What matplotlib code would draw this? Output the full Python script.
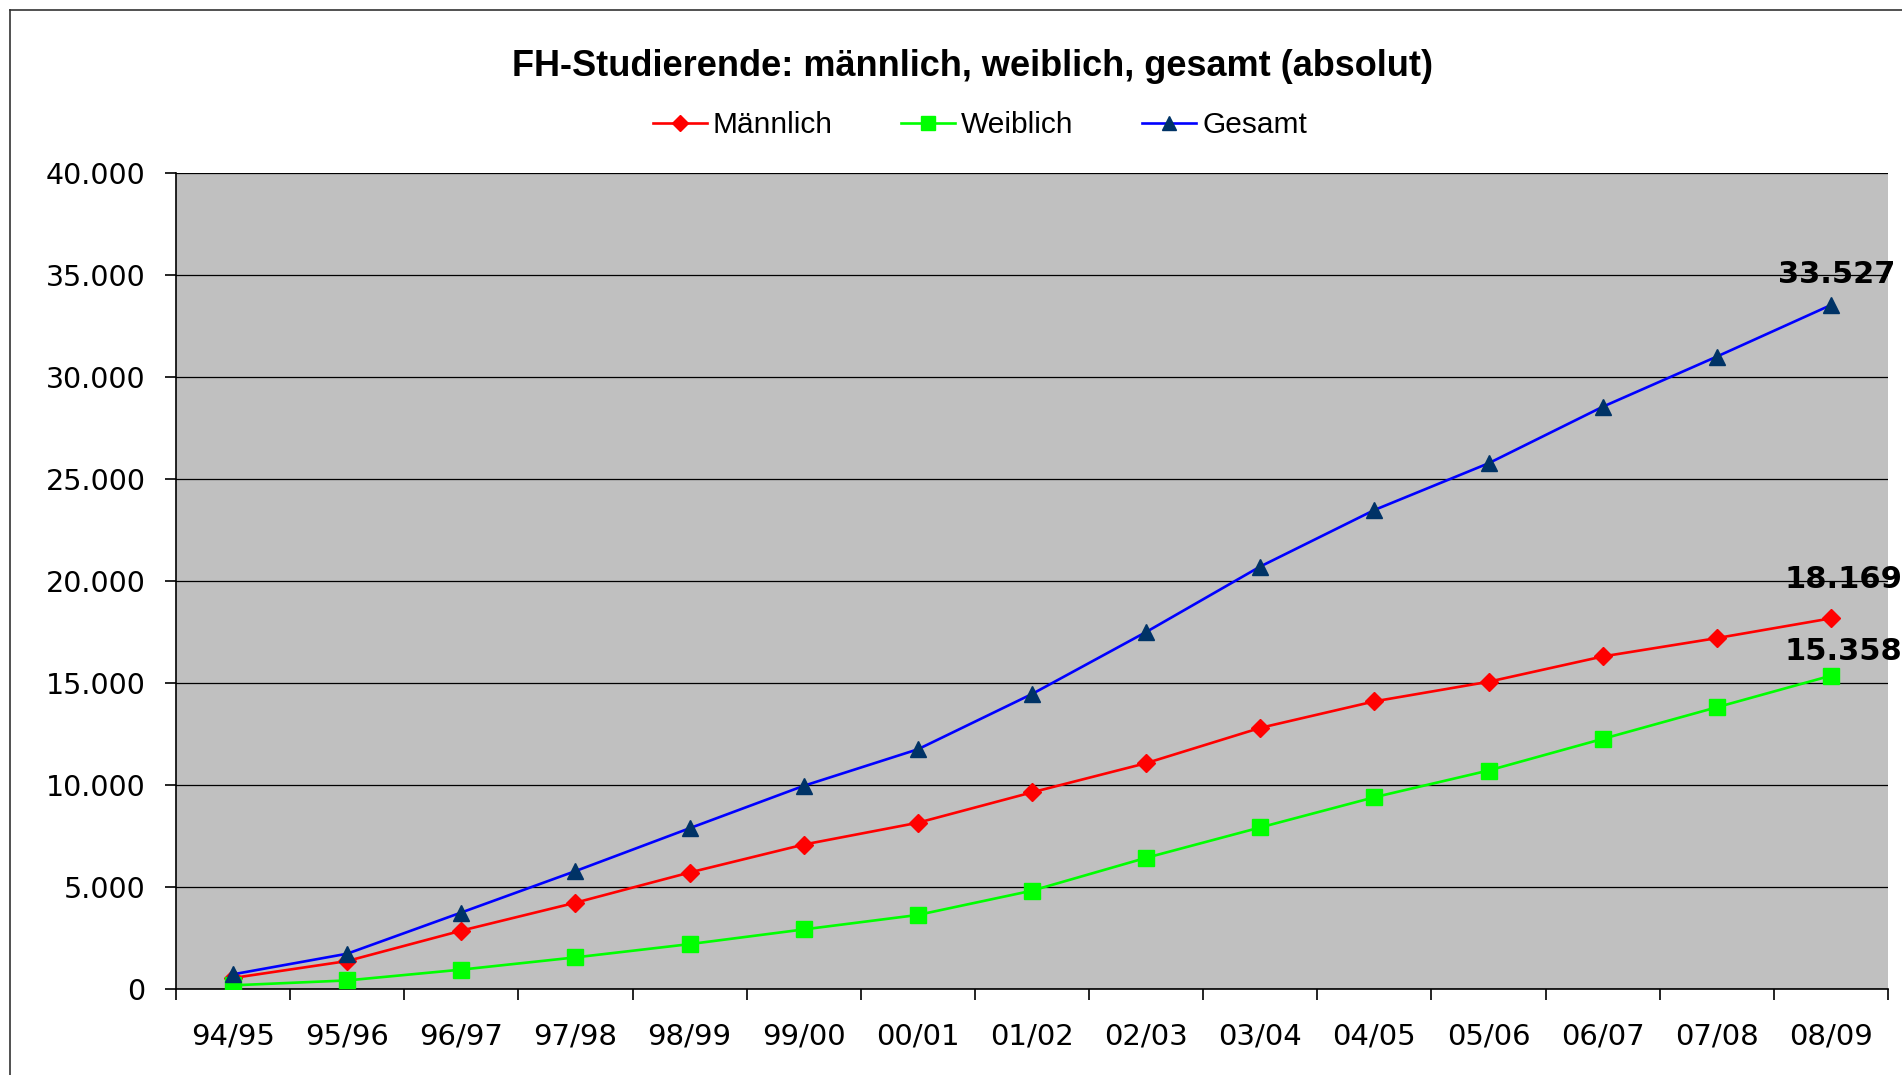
import matplotlib
matplotlib.use("Agg")
import matplotlib.pyplot as plt
from matplotlib.lines import Line2D
from matplotlib.ticker import FuncFormatter, FixedLocator

semester = ["94/95", "95/96", "96/97", "97/98", "98/99", "99/00", "00/01", "01/02",
            "02/03", "03/04", "04/05", "05/06", "06/07", "07/08", "08/09"]
maennlich = [540, 1370, 2860, 4230, 5710, 7080, 8150, 9640,
             11070, 12800, 14100, 15060, 16300, 17200, 18169]
weiblich = [180, 420, 950, 1550, 2200, 2920, 3630, 4820,
            6430, 7920, 9400, 10710, 12260, 13810, 15358]
gesamt = [720, 1730, 3750, 5780, 7880, 9960, 11750, 14460,
          17500, 20710, 23480, 25770, 28540, 31000, 33527]

W, H = 1902, 1075
fig = plt.figure(figsize=(W / 100, H / 100), dpi=100)
ax = fig.add_axes([176 / W, 1 - 989 / H, (1888 - 176) / W, (989 - 173) / H])
ax.set_facecolor("#C0C0C0")

x = list(range(len(semester)))
ax.plot(x, maennlich, color="#FF0000", lw=1.9, marker="D", ms=9,
        mfc="#FF0000", mec="#FF0000", label="Männlich", zorder=3)
ax.plot(x, weiblich, color="#00FF00", lw=1.9, marker="s", ms=11,
        mfc="#00FF00", mec="#00FF00", label="Weiblich", zorder=3)
ax.plot(x, gesamt, color="#0000FF", lw=1.9, marker="^", ms=11,
        mfc="#003366", mec="#003366", label="Gesamt", zorder=3)

ax.set_xlim(-0.5, len(semester) - 0.5)
ax.set_ylim(0, 40000)
ax.set_yticks(range(0, 40001, 5000))
ax.yaxis.set_major_formatter(FuncFormatter(lambda v, p: f"{int(v):,}".replace(",", ".")))
ax.grid(axis="y", color="black", lw=0.9)
ax.set_axisbelow(True)

ax.set_xticks(x)
ax.set_xticklabels(semester)
ax.xaxis.set_minor_locator(FixedLocator([i - 0.5 for i in range(len(semester) + 1)]))
ax.tick_params(axis="x", which="major", length=0, pad=24, labelsize=21)
ax.tick_params(axis="x", which="minor", length=8, width=1.2, direction="out")
ax.tick_params(axis="y", length=8, width=1.2, pad=14, labelsize=20.5)
for lab in ax.get_xticklabels() + ax.get_yticklabels():
    lab.set_fontfamily("DejaVu Sans")

for s in ["top", "right"]:
    ax.spines[s].set_visible(False)
for s in ["left", "bottom"]:
    ax.spines[s].set_linewidth(1.2)

# value labels at the last point
last = len(semester) - 1
lab_font = dict(fontsize=22, fontweight="bold", family="DejaVu Sans", ha="center", va="baseline")
ax.annotate("33.527", (last, gesamt[-1]), xytext=(4, 16), textcoords="offset points",
            annotation_clip=False, **lab_font)
ax.annotate("18.169", (last, maennlich[-1]), xytext=(9, 22), textcoords="offset points",
            annotation_clip=False, **lab_font)
ax.annotate("15.358", (last, weiblich[-1]), xytext=(9, 11), textcoords="offset points",
            annotation_clip=False, **lab_font)

fig.text(972 / W, 1 - 66 / H, "FH-Studierende: männlich, weiblich, gesamt (absolut)",
         ha="center", va="center", fontsize=26, fontweight="bold", family="Liberation Sans")

fig.legend(loc="center", bbox_to_anchor=(980 / W, 1 - 125 / H), ncol=3, frameon=False,
           prop={"family": "Liberation Sans", "size": 21.5}, handlelength=1.8,
           handletextpad=0.2, columnspacing=2.3, markerscale=0.9)

# outer chart border (cropped on the right and bottom)
fig.add_artist(Line2D([10 / W, 10 / W], [0, 1 - 10 / H], color="#333333", lw=1.2))
fig.add_artist(Line2D([10 / W, 1], [1 - 10 / H, 1 - 10 / H], color="#333333", lw=1.2))

fig.savefig("out.png", dpi=100)
